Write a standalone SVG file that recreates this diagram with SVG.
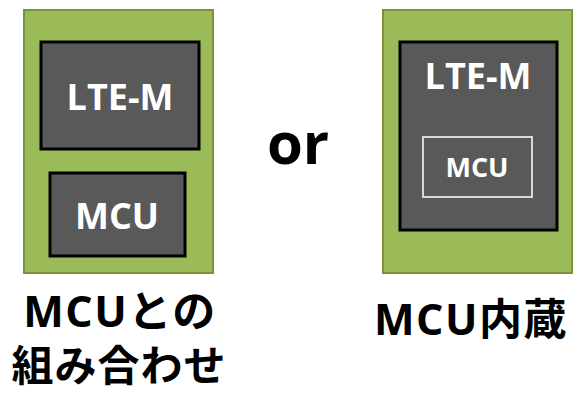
<svg xmlns="http://www.w3.org/2000/svg" width="577" height="394" viewBox="0 0 577 394">
<style>
.board{fill:#9bbb59;stroke:#77933c;stroke-width:2}
.chip{fill:#595959;stroke:#000;stroke-width:3}
.inner{fill:#595959;stroke:#d9d9d9;stroke-width:2}
.w{fill:#fff;font-family:"Open Sans","Noto Sans CJK JP",sans-serif;font-weight:bold;text-anchor:middle}
.b{fill:#000;font-family:"Open Sans","Noto Sans CJK JP",sans-serif;font-weight:bold;text-anchor:middle}
</style>
<rect width="577" height="394" fill="#fff"/>
<g id="left-board">
<rect class="board" x="24" y="10" width="189" height="263"/>
</g>
<g id="left-lte">
<rect class="chip" x="41" y="42" width="158" height="107"/>
<text class="w" x="120" y="110" font-size="36">LTE-M</text>
</g>
<g id="left-mcu">
<rect class="chip" x="50" y="173" width="135" height="83"/>
<text class="w" x="117" y="229" font-size="36">MCU</text>
</g>
<g id="right-board">
<rect class="board" x="383" y="10" width="189" height="263"/>
</g>
<g id="right-lte">
<rect class="chip" x="400" y="42" width="157" height="188"/>
<text class="w" x="478" y="89" font-size="36">LTE-M</text>
</g>
<g id="right-mcu">
<rect class="inner" x="423" y="137" width="109" height="60"/>
<text class="w" x="477" y="177" font-size="27">MCU</text>
</g>
<g id="or">
<text class="b" x="298" y="164" font-size="58">or</text>
</g>
<g id="label-left">
<text class="b" x="120" y="327" font-size="43" letter-spacing="1.5">MCUとの</text>
<text class="b" x="119" y="381" font-size="42" letter-spacing="1">組み合わせ</text>
</g>
<g id="label-right">
<text class="b" x="374" y="335" font-size="43" letter-spacing="1.5" style="text-anchor:start">MCU内蔵</text>
</g>
<g id="connectors"/>
</svg>
